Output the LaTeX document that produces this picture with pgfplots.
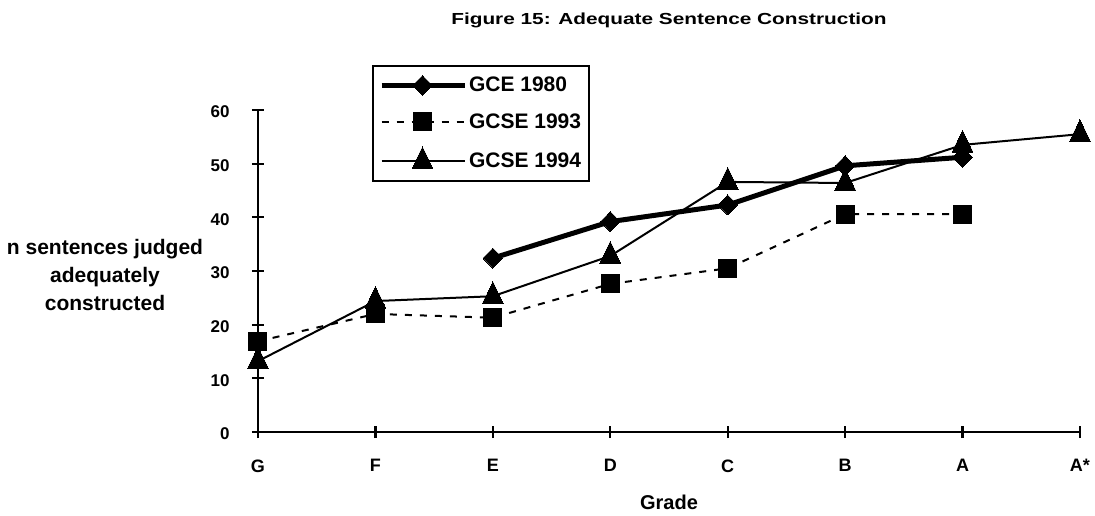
\documentclass[border=0pt]{standalone}
\usepackage{pgfplots}
\pgfplotsset{compat=1.18}
\usepackage{fontspec}
\setmainfont{Liberation Sans}
\newfontfamily\titlefont[FakeStretch=1.3]{Liberation Sans}
\begin{document}
\begin{tikzpicture}[x=1pt,y=1pt]
\useasboundingbox (0,0) rectangle (1095,515);
\begin{axis}[
  at={(258pt,83pt)}, anchor=south west,
  scale only axis, width=822pt, height=322pt,
  xmin=0, xmax=7, ymin=0, ymax=60,
  xtick={0,1,2,3,4,5,6,7},
  xticklabels={G,F,E,D,C,B,A,A*},
  ytick={0,10,20,30,40,50,60},
  axis lines*=left,
  separate axis lines,
  axis line style={line width=2.5pt},
  tick align=center, major tick length=12pt,
  tick style={line width=2.2pt,black},
  yticklabel style={font=\fontsize{17}{20}\selectfont\bfseries, anchor=east, xshift=-19pt, yshift=-2pt},
  xticklabel style={font=\fontsize{18}{21}\selectfont\bfseries, anchor=north, yshift=-18pt},
  /pgf/number format/assume math mode=true,
  clip=false,
  title={Figure 15: Adequate Sentence Construction},
  title style={font=\fontsize{16}{19}\titlefont\bfseries, at={(axis description cs:0.5,1.246)}, anchor=base},
  xlabel={Grade},
  xlabel style={font=\fontsize{20}{24}\selectfont\bfseries, at={(axis description cs:0.5,0)}, anchor=center, yshift=-70pt},
  ylabel={n sentences judged\\adequately\\constructed},
  ylabel style={font=\fontsize{21}{28}\selectfont\bfseries, rotate=-90, align=center, at={(axis description cs:0,0.5)}, anchor=center, xshift=-153pt, yshift=-4pt},
  legend style={at={(axis description cs:0.1387,1.1398)}, anchor=north west,
    draw=black, line width=2pt, inner xsep=6pt, inner ysep=8pt,
    font=\fontsize{21}{25}\selectfont\bfseries,
    row sep=13.5pt,
    nodes={text height=16pt, text depth=3pt, inner sep=2pt}},
  legend cell align=left,
  legend image code/.code={\draw[mark repeat=2,mark phase=2,#1] plot coordinates {(0pt,0pt) (41pt,0pt) (83pt,0pt)};},
]
\addplot[black, line width=5pt, mark=diamond*, mark options={solid, line width=0pt, xscale=1.3}, mark size=10pt]
  coordinates {(2,32.4) (3,39.2) (4,42.3) (5,49.6) (6,51.2)};
\addlegendentry{GCE 1980}
\addplot[black, line width=2pt, dash pattern=on 7pt off 8pt, mark=square*, mark options={solid, line width=0pt}, mark size=9pt]
  coordinates {(0,16.9) (1,22) (2,21.3) (3,27.6) (4,30.5) (5,40.6) (6,40.6)};
\addlegendentry{GCSE 1993}
\addplot[black, line width=2pt, mark=triangle*, mark options={solid, line width=0pt, yscale=1.2}, mark size=12pt]
  coordinates {(0,13.2) (1,24.4) (2,25.3) (3,32.8) (4,46.6) (5,46.4) (6,53.5) (7,55.5)};
\addlegendentry{GCSE 1994}
\end{axis}
\end{tikzpicture}
\end{document}
